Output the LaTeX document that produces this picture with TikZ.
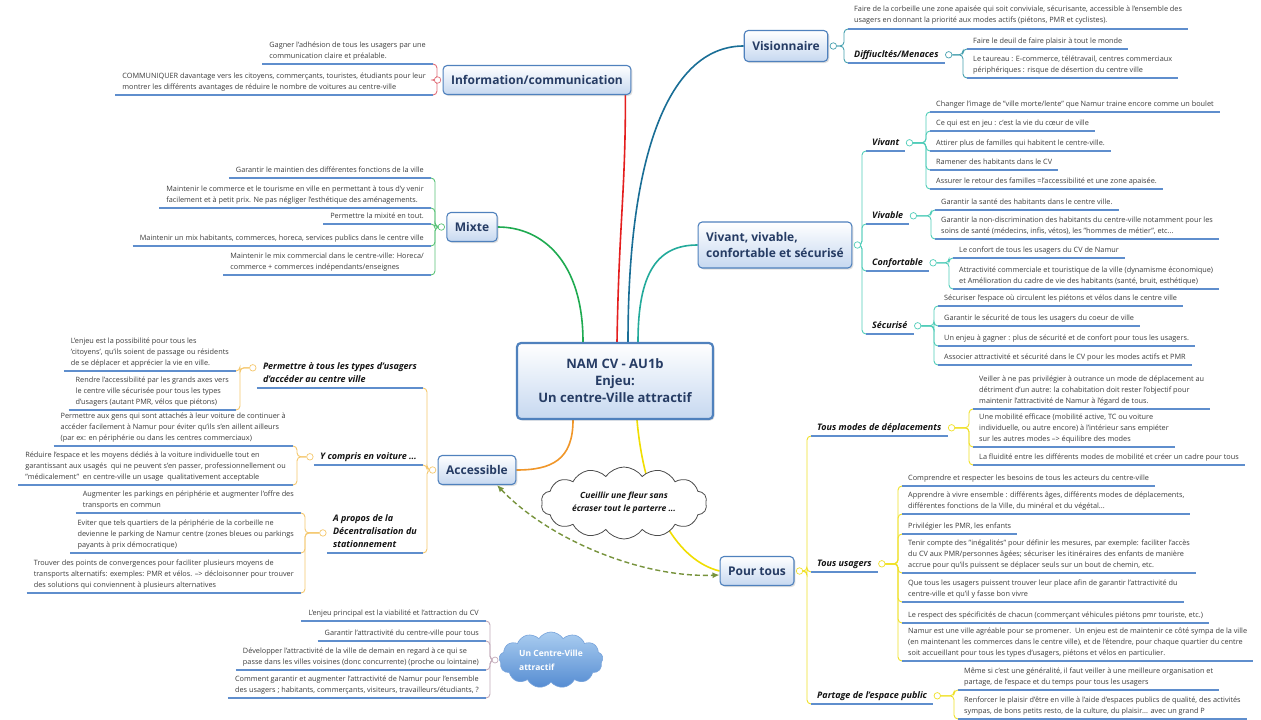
\documentclass[tikz,border=0pt]{standalone}
\usepackage{fontspec}
\setmainfont{Open Sans}
\usetikzlibrary{shapes.symbols,shadows,arrows.meta,backgrounds}
\definecolor{boxblue}{RGB}{79,129,189}
\definecolor{boxfill}{RGB}{198,216,240}
\definecolor{navy}{RGB}{38,60,100}
\definecolor{leaftxt}{RGB}{60,60,60}
\definecolor{subtxt}{RGB}{20,20,20}
\definecolor{ulblue}{RGB}{95,142,205}
\definecolor{colInfo}{RGB}{228,30,30}
\definecolor{colVis}{RGB}{25,110,150}
\definecolor{colViv}{RGB}{35,170,155}
\definecolor{colMix}{RGB}{30,170,80}
\definecolor{colAcc}{RGB}{240,150,40}
\definecolor{colPour}{RGB}{240,222,0}
\definecolor{brkInfo}{RGB}{225,110,120}
\definecolor{brkVis}{RGB}{70,160,175}
\definecolor{brkViv}{RGB}{80,205,185}
\definecolor{brkMix}{RGB}{90,195,120}
\definecolor{brkAcc}{RGB}{245,200,110}
\definecolor{brkPour}{RGB}{240,225,40}
\definecolor{brkCloud}{RGB}{195,170,185}
\definecolor{arrgreen}{RGB}{119,147,60}
\definecolor{cloudtop}{RGB}{170,205,240}
\definecolor{cloudbot}{RGB}{85,140,210}
\newcommand\lffont{\fontsize{7.3}{11}\selectfont}
\newcommand\mbfont{\fontsize{12}{16}\selectfont\bfseries}
\newcommand\sbfont{\fontsize{9}{13}\selectfont\bfseries\itshape}
\pgfdeclarelayer{bgzero}
\pgfsetlayers{bgzero,background,main}
\begin{document}
\begin{tikzpicture}[x=1pt,y=-1pt,
  mainbox/.style={draw=boxblue, line width=1.1pt, rounded corners=4pt,
    top color=white, bottom color=boxfill, font=\mbfont, text=navy,
    inner xsep=8pt, inner ysep=5pt, minimum height=29pt,
    drop shadow={opacity=0.25, shadow xshift=1.5pt, shadow yshift=-1.5pt}},
  hubbox/.style={mainbox, line width=2.2pt, align=center,
    font=\fontsize{13}{17}\selectfont\bfseries, minimum width=196pt, minimum height=76pt},
  uline/.style={draw=ulblue, line width=1.8pt},
  leafR/.style={anchor=south west, align=left, font=\lffont, text=leaftxt,
    inner xsep=6pt, inner ysep=2.5pt, execute at end node=\strut,
    append after command={(\tikzlastnode.south west) edge[uline] (\tikzlastnode.south east)}},
  leafL/.style={leafR, anchor=south east, inner xsep=7pt},
  subR/.style={anchor=south west, align=left, font=\sbfont, text=subtxt,
    inner xsep=6pt, inner ysep=1.5pt, execute at end node=\strut,
    append after command={(\tikzlastnode.south west) edge[uline] (\tikzlastnode.south east)}},
  subL/.style={subR, anchor=south east},
  dot/.style={circle, draw=#1, fill=white, line width=0.7pt, minimum size=6.5pt, inner sep=0pt},
  conn/.style={line width=1.6pt},
  brk/.style={line width=0.9pt, rounded corners=4pt},
]
\begin{pgfonlayer}{bgzero}
\fill[white] (0,0) rectangle (1261,720);
\end{pgfonlayer}
\useasboundingbox (0,0) rectangle (1261,720);

% ---------------- main nodes
\node[hubbox] (hub) at (615,381) {NAM CV - AU1b\\Enjeu:\\Un centre-Ville attractif};
\node[mainbox] (info) at (537,80) {Information/communication};
\node[mainbox, minimum height=31pt] (vis) at (786,46) {Visionnaire};
\node[mainbox] (mix) at (472,227) {Mixte};
\node[mainbox, align=left, minimum height=46pt] (viv) at (775,245) {Vivant, vivable,\\confortable et sécurisé};
\node[mainbox] (acc) at (477,470) {Accessible};
\node[mainbox] (pour) at (757,571) {Pour tous};

% ---------------- Information
\node[dot=brkInfo] (cI) at ([xshift=-5pt]info.west) {};
\node[leafL] (i1) at (433,64) {Gagner l'adhésion de tous les usagers par une\\communication claire et préalable.};
\node[leafL] (i2) at (433,95) {COMMUNIQUER davantage vers les citoyens, commerçants, touristes, étudiants pour leur\\montrer les différents avantages de réduire le nombre de voitures au centre-ville};

% ---------------- Visionnaire
\node[dot=brkVis] (cV) at ([xshift=5pt]vis.east) {};
\node[leafR] (v1) at (848,29) {Faire de la corbeille une zone apaisée qui soit conviviale, sécurisante, accessible à l'ensemble des\\usagers en donnant la priorité aux modes actifs (piétons, PMR et cyclistes).};
\node[subR] (vd) at (848,63) {Diffiucltés/Menaces};
\node[dot=brkVis] (cD) at ([xshift=4pt]vd.east) {};
\node[leafR] (v2) at (967,49) {Faire le deuil de faire plaisir à tout le monde};
\node[leafR] (v3) at (967,78) {Le taureau : E-commerce, télétravail, centres commerciaux\\périphériques : risque de désertion du centre ville};

% ---------------- Vivant, vivable ...
\node[dot=brkViv] (cW) at ([xshift=5pt]viv.east) {};
\node[subR] (s1) at (866,151) {Vivant};
\node[dot=brkViv] (cS1) at ([xshift=4pt]s1.east) {};
\node[leafR] (w1) at (930,112) {Changer l'image de "ville morte/lente" que Namur traine encore comme un boulet};
\node[leafR] (w2) at (930,131) {Ce qui est en jeu : c'est la vie du cœur de ville};
\node[leafR] (w3) at (930,151) {Attirer plus de familles qui habitent le centre-ville.};
\node[leafR] (w4) at (930,170) {Ramener des habitants dans le CV};
\node[leafR] (w5) at (930,189) {Assurer le retour des familles =l'accessibilité et une zone apaisée.};
\node[subR] (s2) at (866,224) {Vivable};
\node[dot=brkViv] (cS2) at ([xshift=4pt]s2.east) {};
\node[leafR] (w6) at (935,210) {Garantir la santé des habitants dans le centre ville.};
\node[leafR] (w7) at (935,239) {Garantir la non-discrimination des habitants du centre-ville notamment pour les\\soins de santé (médecins, infis, vétos), les "hommes de métier", etc...};
\node[subR] (s3) at (866,271) {Confortable};
\node[dot=brkViv] (cS3) at ([xshift=4pt]s3.east) {};
\node[leafR] (w8) at (953,258) {Le confort de tous les usagers du CV de Namur};
\node[leafR] (w9) at (953,289) {Attractivité commerciale et touristique de la ville (dynamisme économique)\\et Amélioration du cadre de vie des habitants (santé, bruit, esthétique)};
\node[subR] (s4) at (866,334) {Sécurisé};
\node[dot=brkViv] (cS4) at ([xshift=4pt]s4.east) {};
\node[leafR] (w10) at (938,306) {Sécuriser l'espace où circulent les piétons et vélos dans le centre ville};
\node[leafR] (w11) at (938,326) {Garantir le sécurité de tous les usagers du coeur de ville};
\node[leafR] (w12) at (938,346) {Un enjeu à gagner : plus de sécurité et de confort pour tous les usagers.};
\node[leafR] (w13) at (938,365) {Associer attractivité et sécurité dans le CV pour les modes actifs et PMR};

% ---------------- Mixte
\node[dot=brkMix] (cM) at ([xshift=-5pt]mix.west) {};
\node[leafL] (m1) at (431,178) {Garantir le maintien des différentes fonctions de la ville};
\node[leafL] (m2) at (431,208) {Maintenir le commerce et le tourisme en ville en permettant à tous d'y venir\\facilement et à petit prix. Ne pas négliger l'esthétique des aménagements.};
\node[leafL] (m3) at (431,224) {Permettre la mixité en tout.};
\node[leafL] (m4) at (431,246) {Maintenir un mix habitants, commerces, horeca, services publics dans le centre ville};
\node[leafL] (m5) at (431,275) {Maintenir le mix commercial dans le centre-ville: Horeca/\\commerce + commerces indépendants/enseignes};

% ---------------- Accessible
\node[dot=brkAcc] (cA) at ([xshift=-5pt]acc.west) {};
\node[subL] (a1) at (423,388) {Permettre à tous les types d'usagers\\d'accéder au centre ville};
\node[dot=brkAcc] (cA1) at ([xshift=-4pt,yshift=-7pt]a1.north west) {};
\node[leafL] (a11) at (236,371) {L'enjeu est la possibilité pour tous les\\'citoyens', qu'ils soient de passage ou résidents\\de se déplacer et apprécier la vie en ville.};
\node[leafL] (a12) at (236,410) {Rendre l'accessibilité par les grands axes vers\\le centre ville sécurisée pour tous les types\\d'usagers (autant PMR, vélos que piétons)};
\node[subL] (a2) at (423,465) {Y compris en voiture ...};
\node[dot=brkAcc] (cA2) at ([xshift=-4pt]a2.west) {};
\node[leafL] (a21) at (293,446) {Permettre aux gens qui sont attachés à leur voiture de continuer à\\accéder facilement à Namur pour éviter qu'ils s'en aillent ailleurs\\(par ex: en périphérie ou dans les centres commerciaux)};
\node[leafL] (a22) at (293,485) {Réduire l'espace et les moyens dédiés à la voiture individuelle tout en\\garantissant aux usagés\ \ qui ne peuvent s'en passer, professionnellement ou\\"médicalement"\ \ en centre-ville un usage\ \ qualitativement acceptable};
\node[subL] (a3) at (423,553) {A propos de la\\Décentralisation du\\stationnement};
\node[dot=brkAcc] (cA3) at ([xshift=-4pt]a3.west) {};
\node[leafL] (a31) at (301,513) {Augmenter les parkings en périphérie et augmenter l'offre des\\transports en commun};
\node[leafL] (a32) at (301,553) {Eviter que tels quartiers de la périphérie de la corbeille ne\\devienne le parking de Namur centre (zones bleues ou parkings\\payants à prix démocratique)};
\node[leafL] (a33) at (301,593) {Trouver des points de convergences pour faciliter plusieurs moyens de\\transports alternatifs: exemples: PMR et vélos. --> décloisonner pour trouver\\des solutions qui conviennent à plusieurs alternatives};

% ---------------- Cloud Un Centre-Ville attractif
\node[cloud, cloud puffs=13, cloud puff arc=115, aspect=2, draw=cloudbot!80!white, line width=0.6pt,
  top color=cloudtop, bottom color=cloudbot, minimum width=104pt, minimum height=56pt, inner sep=0pt,
  text=white, align=left, font=\fontsize{8.5}{14}\selectfont\bfseries] (ucv) at (551,660) {Un Centre-Ville\\attractif};
\node[dot=brkCloud, minimum size=6pt] (cU) at ([xshift=-4pt]ucv.west) {};
\node[leafL] (b1) at (486,621) {L'enjeu principal est la viabilité et l'attraction du CV};
\node[leafL] (b2) at (486,641) {Garantir l'attractivité du centre-ville pour tous};
\node[leafL] (b3) at (486,670) {Développer l'attractivité de la ville de demain en regard à ce qui se\\passe dans les villes voisines (donc concurrente) (proche ou lointaine)};
\node[leafL] (b4) at (486,698) {Comment garantir et augmenter l'attractivité de Namur pour l'ensemble\\des usagers ; habitants, commerçants, visiteurs, travailleurs/étudiants, ?};

% ---------------- Pour tous
\node[dot=brkPour] (cP) at ([xshift=5pt]pour.east) {};
\node[subR] (p1) at (811,436) {Tous modes de déplacements};
\node[dot=brkPour] (cP1) at ([xshift=4pt]p1.east) {};
\node[leafR] (p11) at (973,409) {Veiller à ne pas privilégier à outrance un mode de déplacement au\\détriment d'un autre: la cohabitation doit rester l'objectif pour\\maintenir l'attractivité de Namur à l'égard de tous.};
\node[leafR] (p12) at (973,447) {Une mobilité efficace (mobilité active, TC ou voiture\\individuelle, ou autre encore) à l'intérieur sans empiéter\\sur les autres modes --> équilibre des modes};
\node[leafR] (p13) at (973,465) {La fluidité entre les différents modes de mobilité et créer un cadre pour tous};
\node[subR] (p2) at (811,572) {Tous usagers};
\node[dot=brkPour] (cP2) at ([xshift=4pt]p2.east) {};
\node[leafR] (p21) at (902,486) {Comprendre et respecter les besoins de tous les acteurs du centre-ville};
\node[leafR] (p22) at (902,514) {Apprendre à vivre ensemble : différents âges, différents modes de déplacements,\\différentes fonctions de la Ville, du minéral et du végétal...};
\node[leafR] (p23) at (902,534) {Privilégier les PMR, les enfants};
\node[leafR] (p24) at (902,573) {Tenir compte des "inégalités" pour définir les mesures, par exemple: faciliter l'accès\\du CV aux PMR/personnes âgées; sécuriser les itinéraires des enfants de manière\\accrue pour qu'ils puissent se déplacer seuls sur un bout de chemin, etc.};
\node[leafR] (p25) at (902,602) {Que tous les usagers puissent trouver leur place afin de garantir l'attractivité du\\centre-ville et qu'il y fasse bon vivre};
\node[leafR] (p26) at (902,623) {Le respect des spécificités de chacun (commerçant véhicules piétons pmr touriste, etc.)};
\node[leafR] (p27) at (902,661) {Namur est une ville agréable pour se promener.\ \ Un enjeu est de maintenir ce côté sympa de la ville\\(en maintenant les commerces dans le centre ville), et de l'étendre, pour chaque quartier du centre\\soit accueillant pour tous les types d'usagers, piétons et vélos en particulier.};
\node[subR] (p3) at (811,704) {Partage de l'espace public};
\node[dot=brkPour] (cP3) at ([xshift=4pt]p3.east) {};
\node[leafR] (p31) at (958,690) {Même si c'est une généralité, il faut veiller à une meilleure organisation et\\partage, de l'espace et du temps pour tous les usagers};
\node[leafR] (p32) at (958,719) {Renforcer le plaisir d'être en ville à l'aide d'espaces publics de qualité, des activités\\sympas, de bons petits resto, de la culture, du plaisir... avec un grand P};

% ---------------- cloud Cueillir
\node[cloud, cloud puffs=14, cloud puff arc=110, aspect=2.6, draw=black!70, line width=0.8pt, fill=white,
  minimum width=166pt, minimum height=62pt, inner sep=0pt, align=center,
  font=\fontsize{8.5}{13}\selectfont\bfseries\itshape, text=subtxt] (fleur) at (624,503) {Cueillir une fleur sans\\écraser tout le parterre ...};

% ---------------- connectors (background)
\begin{scope}[on background layer]
\draw[conn, colMix] ([xshift=-32pt]hub.north) .. controls +(0,-80) and +(45,0) .. (mix.east);
\draw[conn, colInfo] ([xshift=2pt]hub.north) .. controls +(2,-120) and +(0,100) .. ([xshift=-6pt]info.south east);
\draw[conn, colVis] ([xshift=13pt]hub.north) .. controls +(0,-200) and +(-70,0) .. (vis.west);
\draw[conn, colViv] ([xshift=23pt]hub.north) .. controls +(0,-70) and +(-40,0) .. (viv.west);
\draw[conn, colAcc] ([xshift=-42pt]hub.south) .. controls +(0,40) and +(35,0) .. (acc.east);
\draw[conn, colPour] ([xshift=22pt]hub.south) .. controls +(8,90) and +(-40,-10) .. (pour.west);

% Information
\foreach \n in {i1,i2} \draw[brk, brkInfo] (cI) -| ([xshift=4pt]\n.south east) -- (\n.south east);
% Visionnaire
\foreach \n in {v1,vd} \draw[brk, brkVis] (cV) -| ([xshift=-4pt]\n.south west) -- (\n.south west);
\foreach \n in {v2,v3} \draw[brk, brkVis] (cD) -| ([xshift=-4pt]\n.south west) -- (\n.south west);
% Vivant
\foreach \n in {s1,s2,s3,s4} \draw[brk, brkViv] (cW) -| ([xshift=-4pt]\n.south west) -- (\n.south west);
\foreach \n in {w1,w2,w3,w4,w5} \draw[brk, brkViv] (cS1) -| ([xshift=-4pt]\n.south west) -- (\n.south west);
\foreach \n in {w6,w7} \draw[brk, brkViv] (cS2) -| ([xshift=-4pt]\n.south west) -- (\n.south west);
\foreach \n in {w8,w9} \draw[brk, brkViv] (cS3) -| ([xshift=-4pt]\n.south west) -- (\n.south west);
\foreach \n in {w10,w11,w12,w13} \draw[brk, brkViv] (cS4) -| ([xshift=-4pt]\n.south west) -- (\n.south west);
% Mixte
\foreach \n in {m1,m2,m3,m4,m5} \draw[brk, brkMix] (cM) -| ([xshift=4pt]\n.south east) -- (\n.south east);
% Accessible
\foreach \n in {a1,a2,a3} \draw[brk, brkAcc] (cA) -| ([xshift=4pt]\n.south east) -- (\n.south east);
\foreach \n in {a11,a12} \draw[brk, brkAcc] (cA1) -| ([xshift=4pt]\n.south east) -- (\n.south east);
\foreach \n in {a21,a22} \draw[brk, brkAcc] (cA2) -| ([xshift=4pt]\n.south east) -- (\n.south east);
\foreach \n in {a31,a32,a33} \draw[brk, brkAcc] (cA3) -| ([xshift=4pt]\n.south east) -- (\n.south east);
% Cloud
\foreach \n in {b1,b2,b3,b4} \draw[brk, brkCloud] (cU) -| ([xshift=4pt]\n.south east) -- (\n.south east);
% Pour tous
\foreach \n in {p1,p2,p3} \draw[brk, brkPour] (cP) -| ([xshift=-4pt]\n.south west) -- (\n.south west);
\foreach \n in {p11,p12,p13} \draw[brk, brkPour] (cP1) -| ([xshift=-4pt]\n.south west) -- (\n.south west);
\foreach \n in {p21,p22,p23,p24,p25,p26,p27} \draw[brk, brkPour] (cP2) -| ([xshift=-4pt]\n.south west) -- (\n.south west);
\foreach \n in {p31,p32} \draw[brk, brkPour] (cP3) -| ([xshift=-4pt]\n.south west) -- (\n.south west);
\end{scope}

% ---------------- dashed relation
\draw[arrgreen, line width=1.4pt, dash pattern=on 5pt off 3pt,
  {Latex[length=7pt,width=6pt]}-{Latex[length=7pt,width=6pt]}]
  ([xshift=20pt]acc.south) .. controls +(52,55) and +(-77,3) .. ([yshift=-4pt]pour.west);
\end{tikzpicture}
\end{document}
